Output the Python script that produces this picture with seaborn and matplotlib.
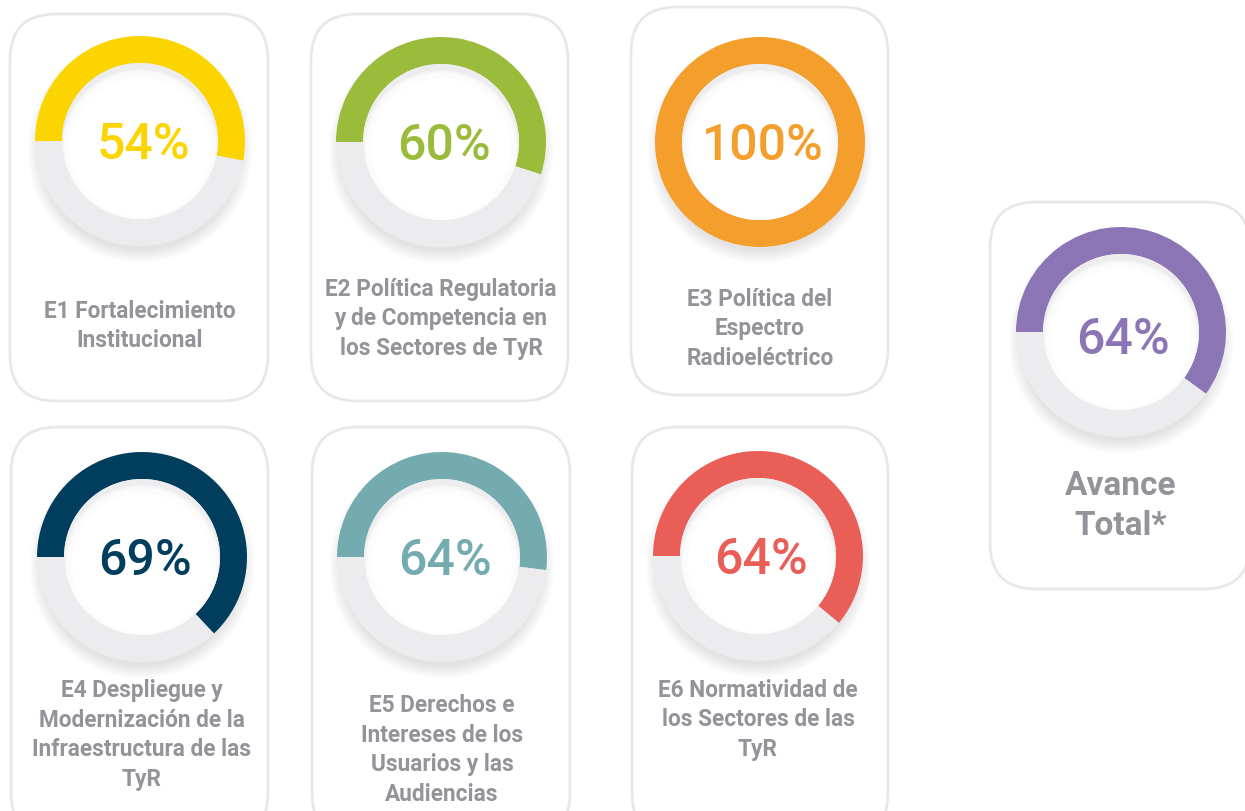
import matplotlib
matplotlib.use("Agg")
import matplotlib.pyplot as plt
from matplotlib.patches import FancyBboxPatch, Circle
import seaborn as sns

sns.set_theme(style="white")
plt.rcParams['font.family'] = ['Roboto', 'DejaVu Sans']

# ---- data ----
labels = [
    "E1 Fortalecimiento\nInstitucional",
    "E2 Política Regulatoria\ny de Competencia en\nlos Sectores de TyR",
    "E3 Política del\nEspectro\nRadioeléctrico",
    "E4 Despliegue y\nModernización de la\nInfraestructura de las\nTyR",
    "E5 Derechos e\nIntereses de los\nUsuarios y las\nAudiencias",
    "E6 Normatividad de\nlos Sectores de las\nTyR",
]
progress = [54, 60, 100, 69, 64, 64]          # printed value
arc_share = [53, 55, 100, 63, 52, 61]         # filled share of ring as drawn
colors = ["#FCD400", "#9BBC3A", "#F49E2B", "#013E5D", "#73ABAE", "#EA5E58"]
total_label = "Avance\nTotal*"
total_progress = 64
total_arc = 60
total_color = "#8B75B5"

W, H = 1245, 812
fig = plt.figure(figsize=(W / 100, H / 100), dpi=100)
ax = fig.add_axes([0, 0, 1, 1])

RING_GREY = "#ECECEE"
TEXT_GREY = "#939399"
R_OUT, WIDTH = 105, 27
R_IN = R_OUT - WIDTH

# layout (pixel coords, top-left origin)
boxes = [(10, 15, 268, 402), (311, 15, 568, 402), (631, 8, 888, 396),
         (11, 428, 268, 840), (312, 428, 570, 840), (632, 428, 888, 840)]
centers = [(140, 142), (441, 143), (760, 143), (142, 558), (442, 558), (758, 557)]
label_y = [326, 319, 329, 735, 750, 720]
total_box = (990, 203, 1250, 590)
total_center = (1121, 333)
total_label_y = 506


def fy(y):
    return H - y


def draw_box(b):
    x0, y0, x1, y1 = b
    p = FancyBboxPatch((x0, fy(y1)), x1 - x0, y1 - y0,
                       boxstyle="round,pad=0,rounding_size=46",
                       fc="white", ec="#E8E8EA", lw=2, zorder=0)
    ax.add_patch(p)


def draw_donut(c, share, col):
    cx, cy = c[0], fy(c[1])
    # soft drop shadow
    for k in range(14):
        ax.add_patch(Circle((cx, cy - 9), R_OUT + 8 - k, fc="black",
                            alpha=0.006, lw=0, zorder=0.5))
    vals = [v for v in (share, 100 - share) if v > 0]
    cols = [col, RING_GREY][:len(vals)]
    ax.pie(vals, colors=cols, startangle=180, counterclock=False,
           radius=R_OUT, center=(cx, cy), frame=True,
           wedgeprops=dict(width=WIDTH, linewidth=0))
    # inner hole with soft inner shadow near the top
    hole = Circle((cx, cy), R_IN, fc="#EDEDEF", lw=0, zorder=2)
    ax.add_patch(hole)
    for k in range(10):
        cc = Circle((cx, cy - 6), R_IN - k * 0.8, fc="white",
                    alpha=0.3, lw=0, zorder=2.1)
        ax.add_patch(cc)
        cc.set_clip_path(hole)
    cc = Circle((cx, cy - 6), R_IN - 8, fc="white", lw=0, zorder=2.2)
    ax.add_patch(cc)
    cc.set_clip_path(hole)


for b, c, pct, sh, col, lab, ly in zip(boxes, centers, progress, arc_share,
                                        colors, labels, label_y):
    draw_box(b)
    draw_donut(c, sh, col)
    ax.text(c[0] + 3, fy(c[1] + 3), f"{pct}%", ha="center", va="center",
            fontsize=36, color=col, fontweight="medium", zorder=3)
    ax.text(c[0], fy(ly), lab, ha="center", va="center", fontsize=16.3,
            color=TEXT_GREY, fontweight="bold", linespacing=1.38, zorder=3)

draw_box(total_box)
draw_donut(total_center, total_arc, total_color)
ax.text(total_center[0] + 2, fy(total_center[1] + 7), f"{total_progress}%",
        ha="center", va="center", fontsize=36, color=total_color,
        fontweight="medium", zorder=3)
ax.text(total_center[0], fy(total_label_y), total_label, ha="center",
        va="center", fontsize=24, color=TEXT_GREY, fontweight="bold",
        linespacing=1.3, zorder=3)

ax.set_xlim(0, W)
ax.set_ylim(0, H)
ax.set_aspect("equal")
ax.axis("off")
fig.savefig("out.png", dpi=100, facecolor="white")
